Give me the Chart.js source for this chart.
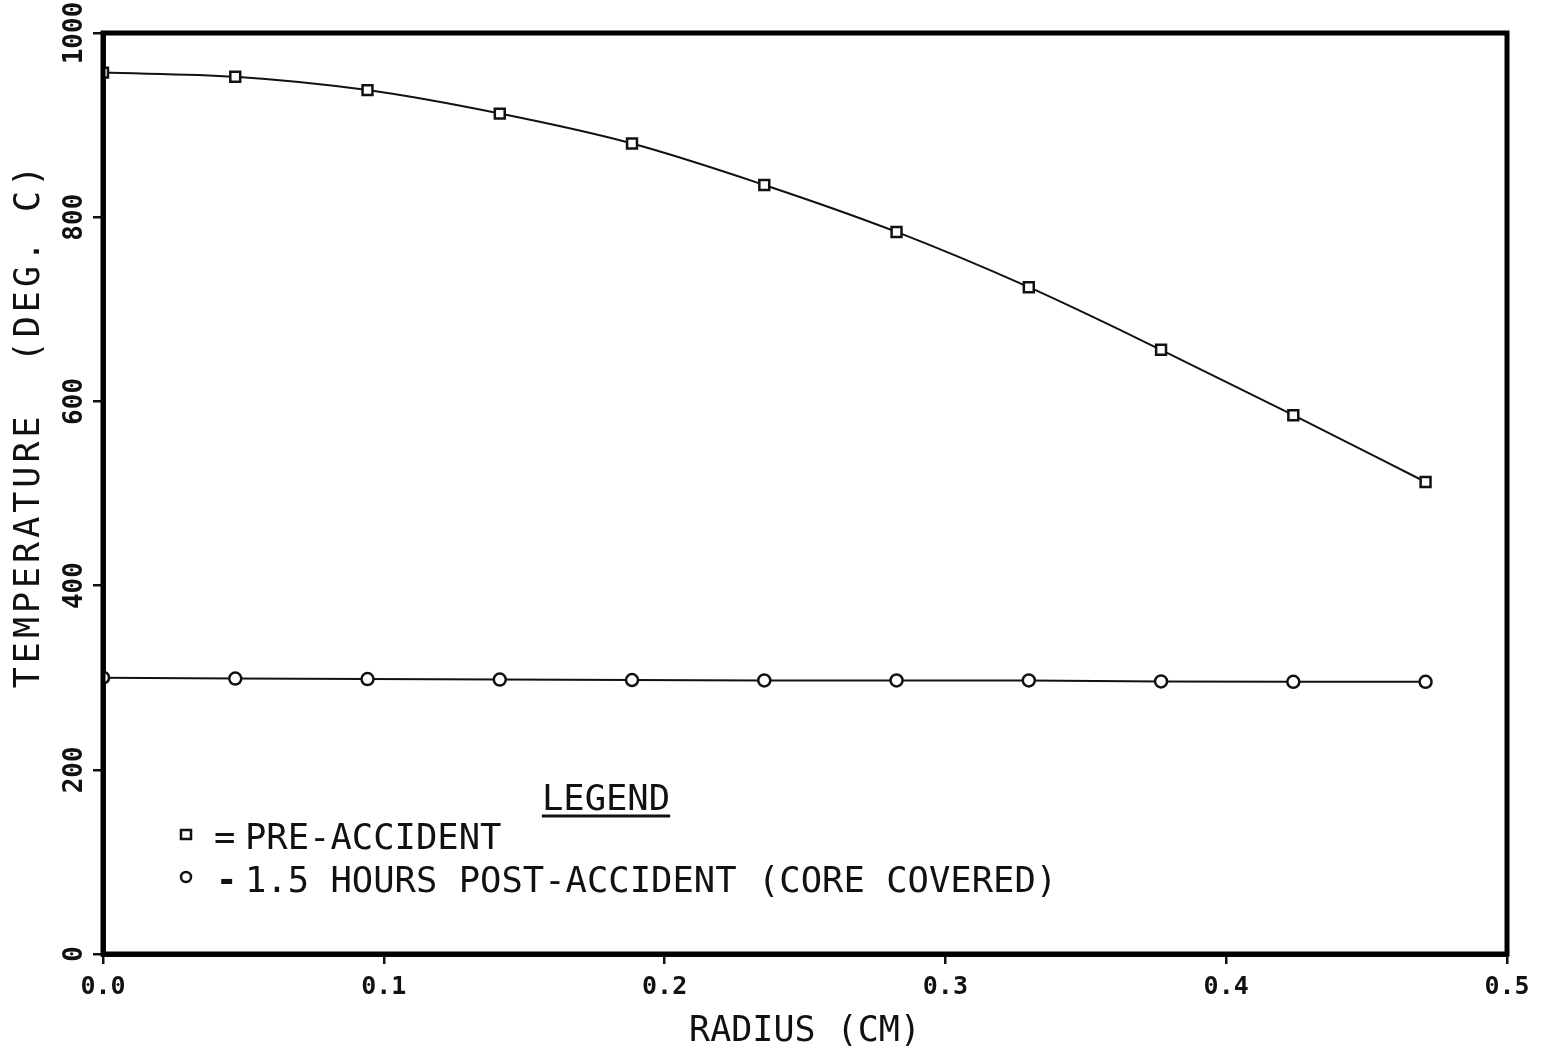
<!DOCTYPE html>
<html>
<head>
<meta charset="utf-8">
<script src="https://cdn.jsdelivr.net/npm/chart.js@4/dist/chart.umd.min.js"></script>
<style>
html,body{margin:0;padding:0;background:#fff;}
#wrap{width:1543px;height:1049px;}
</style>
</head>
<body>
<div id="wrap"><canvas id="c" width="1543" height="1049"></canvas></div>
<script>
const radius = [0, 0.0471, 0.0942, 0.1413, 0.1884, 0.2355, 0.2826, 0.3297, 0.3768, 0.4239, 0.471];
const preAccident = [957, 952.5, 938, 912.5, 880, 835, 784, 724, 656, 585, 512.5];
const postAccident = [300, 299, 298.5, 298, 297.5, 297, 297, 297, 296, 295.5, 295.5];
const xTicks = [0, 0.1, 0.2, 0.3, 0.4, 0.5];
const yTicks = [0, 200, 400, 600, 800, 1000];
const seriesNames = ['PRE-ACCIDENT', '1.5 HOURS POST-ACCIDENT (CORE COVERED)'];
const legendSymbols = ['=', '-'];
const xTitle = 'RADIUS (CM)';
const yTitle = 'TEMPERATURE  (DEG. C)';
const legendTitle = 'LEGEND';

const MONO = '"DejaVu Sans Mono", "Liberation Mono", monospace';

const framePlugin = {
  id: 'frame',
  afterDraw(chart) {
    const {ctx, chartArea: a} = chart;
    ctx.save();
    ctx.strokeStyle = '#000';
    ctx.lineWidth = 5;
    ctx.strokeRect(a.left, a.top, a.right - a.left, a.bottom - a.top);
    // y axis title
    ctx.fillStyle = '#111';
    ctx.font = '35px ' + MONO;
    ctx.letterSpacing = '4px';
    ctx.translate(30, 425);
    ctx.rotate(-Math.PI / 2);
    ctx.textAlign = 'center';
    ctx.textBaseline = 'middle';
    ctx.fillText(yTitle, 0, 0);
    ctx.restore();

    // legend
    ctx.save();
    ctx.fillStyle = '#111';
    ctx.strokeStyle = '#111';
    ctx.font = '35.5px ' + MONO;
    ctx.textBaseline = 'alphabetic';
    ctx.textAlign = 'center';
    ctx.fillText(legendTitle, 606, 810);
    const w = ctx.measureText(legendTitle).width;
    ctx.lineWidth = 3;
    ctx.beginPath();
    ctx.moveTo(606 - w / 2, 816);
    ctx.lineTo(606 + w / 2, 816);
    ctx.stroke();
    ctx.textAlign = 'left';
    ctx.fillText(legendSymbols[0], 214, 849);
    ctx.font = 'bold 35.5px ' + MONO;
    ctx.fillText(legendSymbols[1], 216, 892);
    ctx.font = '35.5px ' + MONO;
    ctx.fillText(seriesNames[0], 245, 849);
    ctx.fillText(seriesNames[1], 245, 892);
    ctx.lineWidth = 2.5;
    ctx.strokeRect(181, 830, 10, 9);
    ctx.beginPath();
    ctx.arc(186, 877, 5, 0, Math.PI * 2);
    ctx.stroke();
    ctx.restore();
  }
};

const toXY = (ys) => radius.map((x, i) => ({x, y: ys[i]}));

new Chart(document.getElementById('c'), {
  type: 'line',
  data: {
    datasets: [
      {
        label: seriesNames[0],
        data: toXY(preAccident),
        borderColor: '#111',
        borderWidth: 2,
        pointStyle: 'rect',
        pointRadius: 7,
        pointBorderWidth: 2.5,
        pointBackgroundColor: '#fff',
        pointBorderColor: '#111',
        cubicInterpolationMode: 'monotone'
      },
      {
        label: seriesNames[1],
        data: toXY(postAccident),
        borderColor: '#111',
        borderWidth: 2,
        pointStyle: 'circle',
        pointRadius: 6,
        pointBorderWidth: 2.5,
        pointBackgroundColor: '#fff',
        pointBorderColor: '#111'
      }
    ]
  },
  options: {
    responsive: false,
    animation: false,
    layout: {padding: {top: 33, right: 36, left: 0, bottom: 0}},
    plugins: {legend: {display: false}, tooltip: {enabled: false}},
    scales: {
      x: {
        type: 'linear',
        min: 0, max: 0.5,
        afterBuildTicks: (s) => { s.ticks = xTicks.map(v => ({value: v})); },
        afterFit: (s) => { s.height = 95; },
        grid: {display: true, drawOnChartArea: false, drawTicks: true, tickLength: 10, color: '#111', lineWidth: 2.5},
        border: {display: true, color: '#111', width: 5},
        ticks: {
          color: '#111',
          font: {family: MONO, size: 25, weight: 'bold'},
          padding: 8,
          maxRotation: 0,
          callback: (v) => Number(v).toFixed(1)
        },
        title: {display: true, text: xTitle, color: '#111', font: {family: MONO, size: 35}, padding: {top: 0, bottom: -4}}
      },
      y: {
        type: 'linear',
        min: 0, max: 1000,
        afterBuildTicks: (s) => { s.ticks = yTicks.map(v => ({value: v})); },
        afterFit: (s) => { s.width = 103; },
        grid: {display: true, drawOnChartArea: false, drawTicks: true, tickLength: 10, color: '#111', lineWidth: 2.5},
        border: {display: true, color: '#111', width: 5},
        ticks: {
          color: '#111',
          font: {family: MONO, size: 26, weight: 'bold'},
          padding: -14,
          minRotation: 90,
          maxRotation: 90,
          crossAlign: 'center',
          callback: (v) => String(v)
        }
      }
    }
  },
  plugins: [framePlugin]
});
</script>
</body>
</html>
